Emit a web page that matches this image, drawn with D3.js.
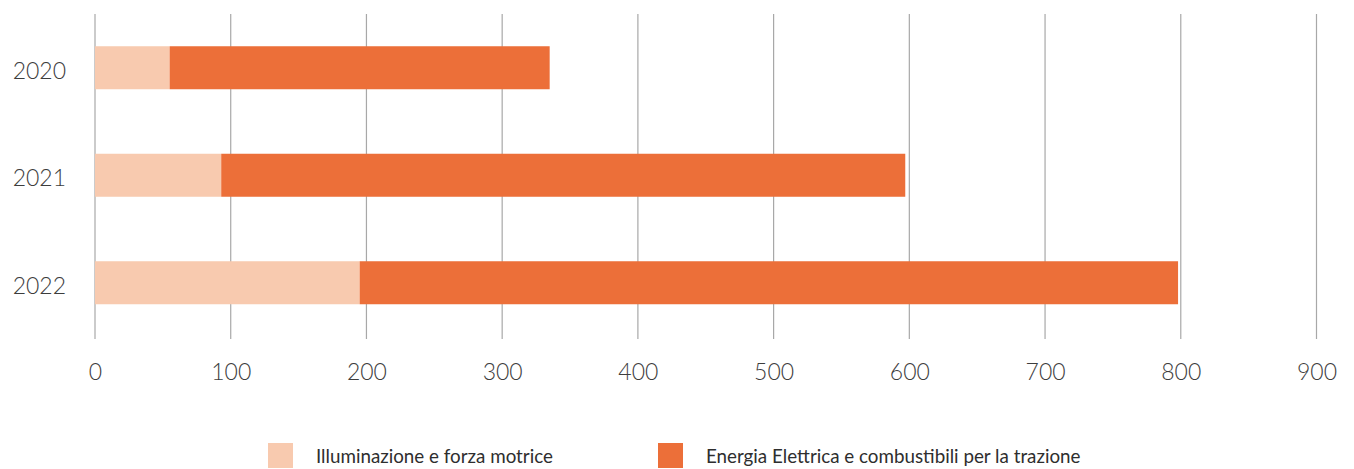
<!DOCTYPE html>
<html><head><meta charset="utf-8">
<script src="https://cdn.jsdelivr.net/npm/d3@7"></script>
<style>body{margin:0;background:#fff;} text{font-family:Lato, "Open Sans", sans-serif;}</style>
</head><body>
<svg id="c" width="1354" height="469"></svg>
<script>
const categories = ["2020","2021","2022"];
const seriesNames = ["Illuminazione e forza motrice","Energia Elettrica e combustibili per la trazione"];
const illuminazione = [55, 93, 195];
const trazione = [280, 504, 603];
const xTicks = [0,100,200,300,400,500,600,700,800,900];
const colors = ["#F8CAAF","#EC6F39"];

const svg = d3.select("#c");
const x = d3.scaleLinear().domain([0,900]).range([95,1316.5]);
const y = d3.scaleBand().domain(categories).range([14,336.5]).paddingInner(0.6).paddingOuter(0.3);

// gridlines
svg.append("g").selectAll("line").data(xTicks).join("line")
  .attr("x1",d=>x(d)).attr("x2",d=>x(d)).attr("y1",14).attr("y2",339)
  .attr("stroke","#a8a8a8").attr("stroke-width",1.2);

const data = categories.map((c,i)=>({cat:c, a:illuminazione[i], b:trazione[i]}));
const stack = d3.stack().keys(["a","b"])(data);
svg.append("g").selectAll("g").data(stack).join("g")
  .attr("fill",(d,i)=>colors[i])
  .selectAll("rect").data(d=>d).join("rect")
  .attr("x",d=>x(d[0])).attr("width",d=>x(d[1])-x(d[0]))
  .attr("y",d=>y(d.data.cat)).attr("height",y.bandwidth());

// x axis
const xa = svg.append("g").attr("transform","translate(0,372)")
  .call(d3.axisBottom(x).tickValues(xTicks).tickSize(0).tickPadding(0).tickFormat(d3.format("d")));
xa.select(".domain").remove();
xa.selectAll("text").attr("font-size",23).attr("font-weight",300).attr("fill","#3d3d3d").attr("dy","0.35em").attr("font-family","Lato, sans-serif");

// y axis
const ya = svg.append("g").attr("transform","translate(66,3.5)")
  .call(d3.axisLeft(y).tickSize(0).tickPadding(0));
ya.select(".domain").remove();
ya.selectAll("text").attr("font-size",23).attr("font-weight",300).attr("fill","#3d3d3d").attr("font-family","Lato, sans-serif");

// legend
const legX = [268, 658];
const lg = svg.append("g").selectAll("g").data(seriesNames).join("g")
  .attr("transform",(d,i)=>`translate(${legX[i]},443)`);
lg.append("rect").attr("width",25).attr("height",25).attr("fill",(d,i)=>colors[i]);
lg.append("text").attr("x",48).attr("y",13).attr("dy","0.35em")
  .attr("font-size",18.8).attr("fill","#2e2e2e").text(d=>d);
</script>
</body></html>
